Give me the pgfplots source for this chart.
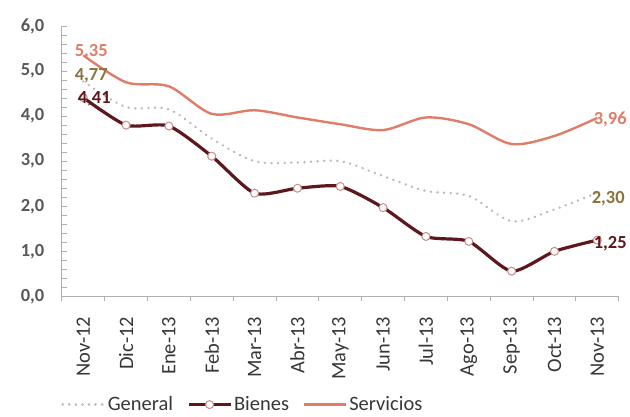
\documentclass[border=0pt]{standalone}
\usepackage{pgfplots}
\pgfplotsset{compat=1.18}
\usepackage{fontspec}
\setmainfont{Carlito}

\definecolor{servcol}{RGB}{223,125,104}
\definecolor{biencol}{RGB}{92,24,28}
\definecolor{biemark}{RGB}{200,140,140}
\definecolor{gencol}{RGB}{185,185,185}
\definecolor{lblgen}{RGB}{138,115,62}
\definecolor{axcol}{RGB}{175,175,175}
\definecolor{txtcol}{RGB}{55,55,55}
\definecolor{ytxtcol}{RGB}{88,88,88}

% Inflación interanual: general, bienes y servicios
\pgfplotstableread{
x  gen   bie   ser
0  4.77  4.41  5.35
1  4.20  3.80  4.75
2  4.15  3.78  4.66
3  3.50  3.11  4.05
4  3.00  2.29  4.13
5  2.97  2.40  3.97
6  3.00  2.44  3.82
7  2.67  1.97  3.69
8  2.34  1.33  3.97
9  2.23  1.22  3.82
10 1.67  0.56  3.38
11 1.93  1.00  3.56
12 2.30  1.25  3.96
}\datatable

\begin{document}
\begin{tikzpicture}
\begin{axis}[
  set layers,
  scale only axis,
  width=558pt, height=271pt,
  xmin=-0.5, xmax=12.5, ymin=0, ymax=6,
  axis x line=bottom, axis y line=left,
  axis line style={-, draw=axcol, line width=1pt},
  font=\fontsize{20.5}{23}\selectfont,
  tick label style={text=txtcol},
  /pgf/number format/assume math mode=true,
  xtick={0,...,12},
  xticklabels={Nov-12,Dic-12,Ene-13,Feb-13,Mar-13,Abr-13,May-13,Jun-13,Jul-13,Ago-13,Sep-13,Oct-13,Nov-13},
  x tick label style={rotate=90, anchor=east, xshift=-17pt},
  minor xtick={-0.5,0.5,...,12.5},
  ytick={0,1,...,6},
  minor ytick={0,0.2,...,6},
  major tick length=0pt,
  minor tick length=5pt,
  xtick align=outside,
  ytick align=inside,
  tick style={draw=axcol, line width=0.8pt},
  y tick label style={xshift=-14pt, text=ytxtcol, font=\fontsize{18.5}{21}\selectfont\bfseries},
  yticklabel style={/pgf/number format/.cd, fixed, fixed zerofill, precision=1, use comma, /tikz/.cd},
  legend style={draw=none, fill=none, legend columns=-1,
    at={(axis description cs:0.325,-0.40)}, anchor=center,
    /tikz/every even column/.append style={column sep=12pt},
    text=txtcol},
  legend image code/.code={\draw[mark repeat=2,mark phase=2,#1] plot coordinates {(0pt,0pt)(21pt,0pt)(42pt,0pt)};},
  clip=false,
]
\path (axis description cs:-0.111,-0.439) rectangle (axis description cs:1.018,1.096);

\addplot[gencol, line width=2.6pt, dash pattern=on 0.1pt off 6.5pt, line cap=round, smooth, tension=0.5]
  table[x=x, y=gen] {\datatable};
\addlegendentry{General}

\addplot[biencol, line width=3.2pt, smooth, tension=0.4,
  mark=*, mark size=4pt, mark options={fill=white, draw=biemark, line width=1pt}]
  table[x=x, y=bie] {\datatable};
\addlegendentry{Bienes}

\addplot[servcol, line width=2.4pt, smooth, tension=0.5]
  table[x=x, y=ser] {\datatable};
\addlegendentry{Servicios}

% value labels at the first and last month, above the lines
\pgfonlayer{axis foreground}
\begin{scope}[every node/.append style={font=\fontsize{18.5}{21}\selectfont\bfseries}]
\node[anchor=west, text=servcol, xshift=-12pt, yshift=4pt] at (axis cs:0,5.35) {5,35};
\node[anchor=west, text=lblgen, xshift=-12pt, yshift=6pt] at (axis cs:0,4.77) {4,77};
\node[anchor=west, text=biencol, xshift=-9pt, yshift=-1pt] at (axis cs:0,4.41) {4,41};
\node[anchor=west, text=servcol, xshift=-7pt, yshift=-2pt] at (axis cs:12,3.96) {3,96};
\node[anchor=west, text=lblgen, xshift=-9pt, yshift=-6pt] at (axis cs:12,2.30) {2,30};
\node[anchor=west, text=biencol, xshift=-7pt, yshift=-4pt] at (axis cs:12,1.25) {1,25};
\end{scope}
\endpgfonlayer
\end{axis}
\end{tikzpicture}
\end{document}
